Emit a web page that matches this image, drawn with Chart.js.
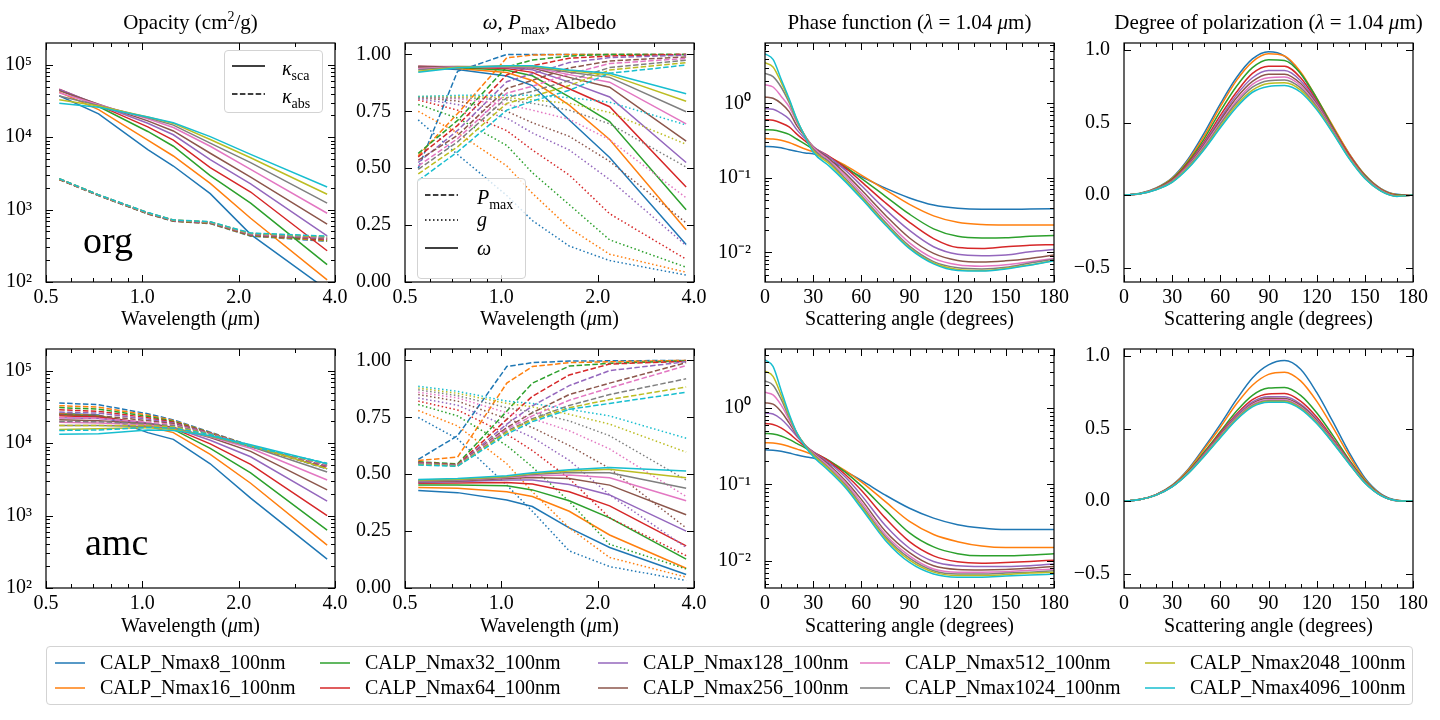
<!DOCTYPE html>
<html><head><meta charset="utf-8">
<script src="https://cdn.jsdelivr.net/npm/chart.js@4.4.1/dist/chart.umd.min.js"></script>
<style>
html,body{margin:0;padding:0;background:#fff;width:1440px;height:720px;overflow:hidden;font-family:'Liberation Serif','Times New Roman',serif;color:#000;}
canvas{position:absolute;z-index:1;}
.t{position:absolute;font-size:20px;line-height:24px;white-space:nowrap;z-index:4;}
.tt{font-size:21px;}
.c{transform:translateX(-50%);}
.sup{font-size:14px;position:relative;top:-8px;}
.sub{font-size:14px;position:relative;top:5px;}
.box{position:absolute;border:1px solid #d3d3d3;border-radius:4px;background:rgba(255,255,255,0.8);z-index:2;box-sizing:border-box;}
.lg{position:absolute;font-size:20px;line-height:22px;white-space:nowrap;z-index:4;}
.big{position:absolute;font-size:38px;line-height:38px;z-index:4;}
svg{position:absolute;left:0;top:0;z-index:3;pointer-events:none;}
</style></head><body>
<script>
// ---------------- DATA ----------------
const SERIES_NAMES = ['CALP_Nmax8_100nm','CALP_Nmax16_100nm','CALP_Nmax32_100nm','CALP_Nmax64_100nm','CALP_Nmax128_100nm','CALP_Nmax256_100nm','CALP_Nmax512_100nm','CALP_Nmax1024_100nm','CALP_Nmax2048_100nm','CALP_Nmax4096_100nm'];
const WAVELENGTH = [0.55, 0.73, 1.04, 1.25, 1.63, 2.18, 3.78];
const ANGLE_PHASE = [0,5,10,15,20,25,30,40,50,60,75,90,105,120,135,150,165,180];
const ANGLE_POL = [0,10,20,30,40,50,60,70,80,90,100,110,120,130,140,150,160,170,180];

// org: opacity (cm^2/g)
const ORG_KSCA = [
 [37300,21000,6760,4000,1660,455,78],
 [42000,24000,9100,5500,2300,760,107],
 [45000,26500,12000,7500,2950,1230,174],
 [46000,27500,13900,9100,3800,1750,270],
 [45500,28000,15600,10800,4900,2270,435],
 [44000,28500,16800,12200,6000,2800,630],
 [41000,28000,18000,13600,7500,3600,890],
 [37000,27500,18600,14700,8300,4460,1230],
 [33000,27000,19000,15500,9300,5200,1630],
 [29500,26000,19000,15800,10200,5800,2050]];
const ORG_KABS = [
 [2600,1560,870,690,640,430,365],
 [2610,1565,875,693,645,435,372],
 [2620,1570,880,697,650,440,380],
 [2630,1575,885,700,655,445,388],
 [2640,1580,890,705,660,450,395],
 [2650,1585,895,708,665,455,400],
 [2660,1590,900,712,670,460,408],
 [2665,1595,903,715,673,465,415],
 [2670,1598,906,718,676,470,422],
 [2680,1600,910,720,680,475,430]];
// org: albedo, Pmax, g
const ORG_OMEGA = [
 [0.942,0.934,0.905,0.863,0.712,0.547,0.165],
 [0.945,0.938,0.920,0.885,0.777,0.626,0.230],
 [0.947,0.942,0.930,0.906,0.813,0.705,0.317],
 [0.948,0.945,0.938,0.921,0.849,0.770,0.417],
 [0.947,0.946,0.942,0.932,0.878,0.813,0.525],
 [0.945,0.947,0.945,0.940,0.899,0.856,0.619],
 [0.938,0.946,0.947,0.943,0.911,0.878,0.695],
 [0.932,0.945,0.948,0.946,0.921,0.899,0.748],
 [0.926,0.943,0.949,0.948,0.928,0.910,0.794],
 [0.921,0.941,0.950,0.950,0.931,0.917,0.827]];
const ORG_PMAX = [
 [0.500,0.926,1.000,1.000,1.000,1.000,1.000],
 [0.555,0.740,0.985,0.997,1.000,1.000,1.000],
 [0.565,0.710,0.945,0.975,0.993,1.000,1.000],
 [0.550,0.688,0.910,0.950,0.983,0.993,1.000],
 [0.525,0.666,0.880,0.915,0.964,0.986,0.997],
 [0.535,0.644,0.850,0.886,0.940,0.971,0.989],
 [0.510,0.630,0.830,0.860,0.914,0.960,0.982],
 [0.495,0.616,0.810,0.838,0.885,0.942,0.974],
 [0.475,0.594,0.785,0.815,0.863,0.931,0.964],
 [0.445,0.572,0.755,0.795,0.842,0.917,0.953]];
const ORG_G = [
 [0.712,0.560,0.380,0.270,0.158,0.094,0.030],
 [0.750,0.655,0.510,0.390,0.237,0.122,0.043],
 [0.780,0.720,0.600,0.480,0.340,0.185,0.065],
 [0.800,0.755,0.665,0.580,0.470,0.300,0.100],
 [0.805,0.780,0.720,0.655,0.580,0.450,0.160],
 [0.810,0.795,0.750,0.700,0.640,0.530,0.260],
 [0.810,0.805,0.780,0.755,0.715,0.625,0.370],
 [0.810,0.810,0.800,0.785,0.755,0.695,0.505],
 [0.815,0.815,0.810,0.800,0.785,0.745,0.605],
 [0.815,0.820,0.820,0.820,0.810,0.790,0.690]];
// org: phase function at 1.04 um
const ORG_PHASE = [
 [0.264,0.262,0.254,0.239,0.227,0.216,0.210,0.171,0.133,0.104,0.0728,0.0538,0.0431,0.0390,0.0378,0.0378,0.0382,0.0386],
 [0.337,0.333,0.320,0.298,0.270,0.244,0.225,0.190,0.147,0.109,0.0692,0.0440,0.0309,0.0253,0.0236,0.0233,0.0233,0.0233],
 [0.442,0.438,0.416,0.384,0.330,0.284,0.244,0.190,0.140,0.0986,0.0566,0.0325,0.0207,0.0164,0.0156,0.0157,0.0164,0.0169],
 [0.604,0.592,0.546,0.484,0.384,0.314,0.257,0.195,0.137,0.0891,0.0463,0.0253,0.0153,0.0116,0.0113,0.0119,0.0125,0.0127],
 [0.851,0.834,0.739,0.617,0.438,0.337,0.264,0.190,0.127,0.0789,0.0378,0.0197,0.0119,0.0094,0.0090,0.0092,0.0102,0.0109],
 [1.22,1.17,1.00,0.777,0.494,0.358,0.264,0.180,0.115,0.0692,0.0315,0.0156,0.0097,0.0078,0.0074,0.0077,0.0083,0.0092],
 [1.78,1.66,1.25,0.904,0.546,0.365,0.257,0.171,0.107,0.0626,0.0280,0.0134,0.0083,0.0068,0.0065,0.0068,0.0075,0.0083],
 [2.53,2.29,1.66,1.03,0.574,0.365,0.244,0.163,0.0986,0.0577,0.0253,0.0121,0.0075,0.0062,0.0060,0.0063,0.0072,0.0081],
 [3.52,3.09,1.93,1.11,0.592,0.358,0.232,0.155,0.0937,0.0549,0.0240,0.0115,0.0072,0.0059,0.0057,0.0061,0.0068,0.0078],
 [4.63,3.90,2.13,1.16,0.604,0.354,0.221,0.144,0.0891,0.0527,0.0233,0.0112,0.0070,0.0057,0.0056,0.0060,0.0067,0.0077]];
// org: degree of polarization at 1.04 um
const ORG_POL = [
 [0,0.012,0.050,0.120,0.250,0.430,0.630,0.810,0.940,0.990,0.960,0.840,0.660,0.470,0.290,0.140,0.045,0.005,0],
 [0,0.011,0.047,0.115,0.240,0.410,0.610,0.790,0.920,0.975,0.960,0.850,0.670,0.480,0.290,0.140,0.043,0.003,0],
 [0,0.011,0.045,0.110,0.230,0.390,0.580,0.750,0.880,0.935,0.930,0.840,0.670,0.470,0.280,0.135,0.040,0.000,0],
 [0,0.010,0.043,0.105,0.220,0.370,0.550,0.710,0.840,0.890,0.890,0.810,0.650,0.460,0.280,0.130,0.038,-0.002,0],
 [0,0.010,0.042,0.100,0.210,0.360,0.530,0.690,0.810,0.860,0.860,0.790,0.640,0.455,0.270,0.128,0.035,-0.004,0],
 [0,0.010,0.041,0.098,0.205,0.350,0.515,0.670,0.785,0.835,0.835,0.770,0.630,0.450,0.270,0.125,0.033,-0.005,0],
 [0,0.009,0.040,0.095,0.200,0.340,0.500,0.650,0.765,0.810,0.815,0.755,0.620,0.445,0.265,0.123,0.032,-0.006,0],
 [0,0.009,0.039,0.093,0.195,0.330,0.490,0.635,0.745,0.790,0.795,0.740,0.610,0.440,0.260,0.120,0.030,-0.007,0],
 [0,0.009,0.038,0.090,0.190,0.320,0.475,0.620,0.725,0.770,0.775,0.725,0.600,0.435,0.260,0.118,0.029,-0.008,0],
 [0,0.009,0.037,0.088,0.185,0.315,0.465,0.605,0.710,0.750,0.757,0.710,0.590,0.430,0.255,0.115,0.028,-0.009,0]];

// amc: opacity (cm^2/g)
const AMC_KSCA = [
 [26000,24500,14000,11300,5200,1740,250],
 [25500,24000,17000,14000,7000,2800,390],
 [25000,23500,18500,15500,8500,3900,630],
 [24000,23000,19000,16000,9800,5100,1000],
 [22500,22000,19000,16500,11000,6500,1580],
 [21000,20500,18500,16500,12000,7700,2270],
 [19500,19000,18000,16000,12300,8500,3100],
 [17500,17500,17000,15800,12500,9000,4000],
 [15500,15800,16500,15500,12600,9300,4450],
 [13300,13500,15200,15000,12700,9500,5200]];
const AMC_KABS = [
 [36000,34000,25500,21000,14200,9300,4400],
 [33000,31500,24500,20500,14000,9200,4500],
 [31000,29500,23500,20000,13900,9100,4600],
 [29000,27500,22500,19500,13800,9000,4700],
 [27000,26000,21500,19000,13700,9000,4800],
 [25000,24000,20500,18500,13600,9000,4900],
 [22500,22000,19500,18000,13500,9000,5000],
 [20000,19800,18500,17500,13400,9000,5100],
 [17500,17500,17500,16800,13300,9000,5200],
 [15000,15200,16500,16200,13200,9000,5300]];
// amc: albedo, Pmax, g
const AMC_OMEGA = [
 [0.428,0.419,0.387,0.358,0.264,0.178,0.059],
 [0.442,0.438,0.423,0.402,0.337,0.233,0.087],
 [0.452,0.452,0.449,0.431,0.383,0.308,0.127],
 [0.460,0.461,0.464,0.457,0.423,0.361,0.185],
 [0.464,0.467,0.474,0.474,0.455,0.409,0.250],
 [0.467,0.470,0.481,0.486,0.481,0.452,0.322],
 [0.470,0.473,0.486,0.493,0.496,0.484,0.383],
 [0.471,0.475,0.488,0.499,0.507,0.506,0.438],
 [0.474,0.478,0.490,0.503,0.514,0.522,0.484],
 [0.477,0.481,0.493,0.506,0.519,0.529,0.514]];
const AMC_PMAX = [
 [0.565,0.669,0.973,0.990,0.997,0.998,1.000],
 [0.560,0.575,0.900,0.973,0.990,0.994,1.000],
 [0.555,0.545,0.777,0.900,0.975,0.987,0.998],
 [0.552,0.542,0.741,0.842,0.936,0.984,0.996],
 [0.550,0.540,0.720,0.800,0.889,0.955,0.994],
 [0.548,0.540,0.705,0.770,0.850,0.900,0.990],
 [0.546,0.538,0.698,0.756,0.825,0.879,0.977],
 [0.545,0.537,0.690,0.744,0.802,0.850,0.919],
 [0.543,0.536,0.684,0.738,0.792,0.828,0.883],
 [0.540,0.535,0.676,0.731,0.785,0.811,0.860]];
const AMC_G = [
 [0.749,0.655,0.452,0.337,0.163,0.094,0.033],
 [0.780,0.712,0.546,0.423,0.264,0.134,0.048],
 [0.806,0.756,0.626,0.532,0.380,0.192,0.084],
 [0.821,0.782,0.676,0.604,0.481,0.308,0.142],
 [0.835,0.803,0.712,0.662,0.561,0.409,0.178],
 [0.850,0.821,0.744,0.705,0.626,0.525,0.264],
 [0.860,0.835,0.770,0.744,0.691,0.611,0.402],
 [0.871,0.845,0.792,0.773,0.734,0.669,0.474],
 [0.879,0.855,0.811,0.796,0.763,0.720,0.597],
 [0.886,0.864,0.821,0.811,0.785,0.756,0.658]];
// amc: phase function at 1.04 um
const AMC_PHASE = [
 [0.284,0.281,0.273,0.258,0.243,0.231,0.222,0.186,0.148,0.113,0.0725,0.0488,0.0362,0.0297,0.0269,0.0256,0.0256,0.0256],
 [0.353,0.350,0.336,0.314,0.290,0.268,0.245,0.201,0.152,0.108,0.0595,0.0328,0.0221,0.0178,0.0156,0.0149,0.0149,0.0149],
 [0.466,0.457,0.431,0.390,0.343,0.302,0.263,0.205,0.145,0.0957,0.0464,0.0232,0.0152,0.0124,0.0116,0.0116,0.0119,0.0124],
 [0.628,0.610,0.552,0.466,0.379,0.314,0.268,0.201,0.135,0.0841,0.0362,0.0178,0.0116,0.0097,0.0093,0.0095,0.0098,0.0102],
 [0.862,0.837,0.721,0.563,0.422,0.327,0.268,0.191,0.125,0.0725,0.0289,0.0146,0.0098,0.0086,0.0084,0.0084,0.0086,0.0091],
 [1.18,1.13,0.906,0.640,0.440,0.327,0.263,0.180,0.113,0.0637,0.0244,0.0128,0.0086,0.0077,0.0076,0.0077,0.0080,0.0084],
 [1.61,1.49,1.10,0.707,0.453,0.327,0.258,0.172,0.106,0.0583,0.0221,0.0116,0.0078,0.0071,0.0071,0.0072,0.0075,0.0078],
 [2.28,2.00,1.31,0.758,0.462,0.327,0.250,0.163,0.0995,0.0539,0.0206,0.0108,0.0074,0.0067,0.0067,0.0069,0.0071,0.0074],
 [3.06,2.61,1.49,0.796,0.466,0.320,0.243,0.157,0.0957,0.0513,0.0196,0.0102,0.0071,0.0064,0.0064,0.0066,0.0069,0.0071],
 [4.29,3.52,1.72,0.845,0.466,0.314,0.233,0.149,0.0910,0.0488,0.0185,0.0095,0.0067,0.0061,0.0061,0.0063,0.0065,0.0067]];
// amc: degree of polarization at 1.04 um
const AMC_POL = [
 [0,0.012,0.045,0.110,0.220,0.370,0.530,0.700,0.850,0.940,0.970,0.910,0.750,0.550,0.340,0.160,0.050,0.006,0],
 [0,0.012,0.045,0.108,0.215,0.360,0.510,0.670,0.800,0.875,0.890,0.830,0.690,0.510,0.320,0.150,0.047,0.005,0],
 [0,0.011,0.044,0.105,0.205,0.340,0.480,0.620,0.730,0.780,0.785,0.730,0.610,0.455,0.290,0.140,0.043,0.004,0],
 [0,0.011,0.043,0.103,0.200,0.330,0.470,0.600,0.700,0.740,0.742,0.690,0.580,0.435,0.280,0.135,0.042,0.004,0],
 [0,0.011,0.043,0.102,0.198,0.325,0.460,0.590,0.685,0.720,0.720,0.670,0.565,0.425,0.275,0.132,0.041,0.003,0],
 [0,0.011,0.042,0.101,0.196,0.320,0.455,0.580,0.675,0.710,0.708,0.660,0.557,0.420,0.270,0.130,0.040,0.003,0],
 [0,0.011,0.042,0.100,0.195,0.318,0.450,0.575,0.668,0.700,0.700,0.652,0.550,0.415,0.268,0.128,0.040,0.003,0],
 [0,0.011,0.042,0.100,0.193,0.315,0.446,0.570,0.660,0.693,0.693,0.645,0.545,0.410,0.265,0.127,0.039,0.003,0],
 [0,0.011,0.041,0.099,0.192,0.312,0.442,0.565,0.655,0.687,0.687,0.640,0.540,0.407,0.262,0.126,0.039,0.003,0],
 [0,0.011,0.041,0.098,0.190,0.310,0.438,0.560,0.650,0.682,0.682,0.635,0.535,0.403,0.260,0.125,0.038,0.003,0]];

// tick labels
const WL_TICKS = [0.5, 1.0, 2.0, 4.0];
const ANGLE_TICKS = [0, 30, 60, 90, 120, 150, 180];
const OPAC_TICKS = [1e2, 1e3, 1e4, 1e5];
const ALB_TICKS = [0, 0.25, 0.5, 0.75, 1.0];
const PHASE_TICKS = [0.01, 0.1, 1];
const POL_TICKS = [-0.5, 0, 0.5, 1.0];

// ---------------- STYLE / LAYOUT ----------------
const COLORS = ['#1f77b4','#ff7f0e','#2ca02c','#d62728','#9467bd','#8c564b','#e377c2','#7f7f7f','#bcbd22','#17becf'];
const FONT = "'Liberation Serif','Times New Roman',serif";
const DASHED = [5.5, 2.4], DOTTED = [1.5, 2.5];
const COLS = [46, 405, 765, 1124], ROWS = [39, 345], W = 289, H = 243;
const PADL = 70, PADT = 14, PADR = 26, PADB = 36;

Chart.defaults.font.family = FONT;

function sup(n){const m={'-':'\u207B','0':'\u2070','1':'\u00B9','2':'\u00B2','3':'\u00B3','4':'\u2074','5':'\u2075','6':'\u2076','7':'\u2077','8':'\u2078','9':'\u2079'};return String(n).split('').map(c=>m[c]).join('');}
function logLabel(v){return '10'+sup(Math.round(Math.log10(v)));}
function logMinors(min,max){const out=[];for(let e=Math.floor(Math.log10(min));e<=Math.ceil(Math.log10(max));e++){for(let k=2;k<=9;k++){const v=k*Math.pow(10,e);if(v>min&&v<max)out.push(v);}}return out;}
const WL_MINOR=[0.6,0.7,0.8,0.9,3.0];
const ANG_MINOR=[10,20,40,50,70,80,100,110,130,140,160,170];

function frameTicks(xMinor,yMinor){
  return {id:'frameTicks',afterDraw(chart){
    const ctx=chart.ctx,a=chart.chartArea,xs=chart.scales.x,ys=chart.scales.y;
    ctx.save();ctx.strokeStyle='#000';ctx.lineWidth=1;ctx.setLineDash([]);
    ctx.beginPath();
    const vx=(v,len)=>{const p=Math.round(xs.getPixelForValue(v))+0.5;if(p<a.left-1||p>a.right+1)return;ctx.moveTo(p,a.bottom);ctx.lineTo(p,a.bottom-len);ctx.moveTo(p,a.top);ctx.lineTo(p,a.top+len);};
    const vy=(v,len)=>{const p=Math.round(ys.getPixelForValue(v))+0.5;if(p<a.top-1||p>a.bottom+1)return;ctx.moveTo(a.left,p);ctx.lineTo(a.left+len,p);ctx.moveTo(a.right,p);ctx.lineTo(a.right-len,p);};
    xs.ticks.forEach(t=>vx(t.value,7));xMinor.forEach(v=>vx(v,4));
    ys.ticks.forEach(t=>vy(t.value,7));yMinor.forEach(v=>vy(v,4));
    ctx.stroke();
    ctx.lineWidth=1.2;ctx.strokeRect(a.left,a.top,a.right-a.left,a.bottom-a.top);
    ctx.restore();
  }};
}

function ds(xs,ys,color,dash,smooth){
  return {data:xs.map((x,i)=>({x:x,y:ys[i]})),borderColor:color,backgroundColor:color,borderWidth:1.5,borderDash:dash,
    pointRadius:0,fill:false,tension:0,cubicInterpolationMode:smooth?'monotone':'default'};
}

function makePanel(row,col,s){
  const cv=document.createElement('canvas');
  const w=PADL+W+PADR,h=PADT+H+PADB;
  cv.width=w;cv.height=h;
  cv.style.left=(COLS[col]-PADL)+'px';cv.style.top=(ROWS[row]-PADT)+'px';
  cv.style.width=w+'px';cv.style.height=h+'px';
  document.body.appendChild(cv);
  const tickFont={family:FONT,size:20};
  new Chart(cv,{type:'line',data:{datasets:s.datasets.reverse()},
    options:{responsive:false,animation:false,events:[],
      layout:{padding:{left:0,top:PADT,right:PADR,bottom:0}},
      plugins:{legend:{display:false},tooltip:{enabled:false}},
      scales:{
        x:{type:s.xType,min:s.xMin,max:s.xMax,grid:{display:false},border:{display:false},
          afterBuildTicks:sc=>{sc.ticks=s.xTicks.map(v=>({value:v}));},
          afterFit:sc=>{sc.height=PADB;},
          ticks:{autoSkip:false,maxRotation:0,minRotation:0,padding:-4,color:'#000',font:tickFont,callback:s.xFmt}},
        y:{type:s.yType,min:s.yMin,max:s.yMax,grid:{display:false},border:{display:false},
          afterBuildTicks:sc=>{sc.ticks=s.yTicks.map(v=>({value:v}));},
          afterFit:sc=>{sc.width=PADL;},
          ticks:{autoSkip:false,padding:6,color:'#000',font:tickFont,callback:s.yFmt}}
      }},
    plugins:[frameTicks(s.xMinor,s.yMinor)]});
}

const wlFmt=v=>Number(v).toFixed(1);
const angFmt=v=>String(Math.round(v));

function buildRow(row,KSCA,KABS,OMEGA,PMAX,G,PHASE,POL,phaseMin,phaseMax){
  const d1=[],d2=[],d3=[],d4=[];
  for(let i=0;i<SERIES_NAMES.length;i++){
    const c=COLORS[i];
    d1.push(ds(WAVELENGTH,KSCA[i],c,[],false));
    d1.push(ds(WAVELENGTH,KABS[i],c,DASHED,false));
    d2.push(ds(WAVELENGTH,PMAX[i],c,DASHED,false));
    d2.push(ds(WAVELENGTH,G[i],c,DOTTED,false));
    d2.push(ds(WAVELENGTH,OMEGA[i],c,[],false));
    d3.push(ds(ANGLE_PHASE,PHASE[i],c,[],true));
    d4.push(ds(ANGLE_POL,POL[i],c,[],true));
  }
  makePanel(row,0,{datasets:d1,xType:'logarithmic',xMin:0.5,xMax:4.0,xTicks:WL_TICKS,xMinor:WL_MINOR,xFmt:wlFmt,
    yType:'logarithmic',yMin:100,yMax:2e5,yTicks:OPAC_TICKS,yMinor:logMinors(100,2e5),yFmt:logLabel});
  makePanel(row,1,{datasets:d2,xType:'logarithmic',xMin:0.5,xMax:4.0,xTicks:WL_TICKS,xMinor:WL_MINOR,xFmt:wlFmt,
    yType:'linear',yMin:0,yMax:1.05,yTicks:ALB_TICKS,yMinor:[],yFmt:v=>Number(v).toFixed(2)});
  makePanel(row,2,{datasets:d3,xType:'linear',xMin:0,xMax:180,xTicks:ANGLE_TICKS,xMinor:ANG_MINOR,xFmt:angFmt,
    yType:'logarithmic',yMin:phaseMin,yMax:phaseMax,yTicks:PHASE_TICKS,yMinor:logMinors(phaseMin,phaseMax),yFmt:logLabel});
  makePanel(row,3,{datasets:d4,xType:'linear',xMin:0,xMax:180,xTicks:ANGLE_TICKS,xMinor:ANG_MINOR,xFmt:angFmt,
    yType:'linear',yMin:-0.6,yMax:1.05,yTicks:POL_TICKS,yMinor:[],yFmt:v=>{const t=Number(v).toFixed(1);return t.replace('-','\u2212');}});
}
buildRow(0,ORG_KSCA,ORG_KABS,ORG_OMEGA,ORG_PMAX,ORG_G,ORG_PHASE,ORG_POL,0.0040,6.47);
buildRow(1,AMC_KSCA,AMC_KABS,AMC_OMEGA,AMC_PMAX,AMC_G,AMC_PHASE,AMC_POL,0.0044,5.95);

// ---------------- TEXT / LEGENDS ----------------
function addHTML(html){const d=document.createElement('div');d.innerHTML=html;while(d.firstChild)document.body.appendChild(d.firstChild);}
const centers=COLS.map(x=>x+W/2);
addHTML('<div class="t tt c" style="left:'+centers[0]+'px;top:10px">Opacity (cm<span class="sup">2</span>/g)</div>');
addHTML('<div class="t tt c" style="left:'+centers[1]+'px;top:10px"><i>ω</i>, <i>P</i><span class="sub">max</span>, Albedo</div>');
addHTML('<div class="t tt c" style="left:'+centers[2]+'px;top:10px">Phase function (<i>λ</i> = 1.04 <i>μ</i>m)</div>');
addHTML('<div class="t tt c" style="left:'+centers[3]+'px;top:10px">Degree of polarization (<i>λ</i> = 1.04 <i>μ</i>m)</div>');
[306,613].forEach(top=>{
  addHTML('<div class="t c" style="left:'+centers[0]+'px;top:'+top+'px">Wavelength (<i>μ</i>m)</div>');
  addHTML('<div class="t c" style="left:'+centers[1]+'px;top:'+top+'px">Wavelength (<i>μ</i>m)</div>');
  addHTML('<div class="t c" style="left:'+centers[2]+'px;top:'+top+'px">Scattering angle (degrees)</div>');
  addHTML('<div class="t c" style="left:'+centers[3]+'px;top:'+top+'px">Scattering angle (degrees)</div>');
});
addHTML('<div class="big" style="left:83px;top:221px">org</div>');
addHTML('<div class="big" style="left:85px;top:523px">amc</div>');

// inner legend boxes
addHTML('<div class="box" style="left:224px;top:50px;width:99px;height:63px"></div>');
addHTML('<div class="t" style="left:282px;top:56px"><i>κ</i><span class="sub">sca</span></div>');
addHTML('<div class="t" style="left:282px;top:84px"><i>κ</i><span class="sub">abs</span></div>');
addHTML('<div class="box" style="left:417px;top:178px;width:109px;height:101px"></div>');
addHTML('<div class="t" style="left:477px;top:185px"><i>P</i><span class="sub">max</span></div>');
addHTML('<div class="t" style="left:477px;top:207px"><i>g</i></div>');
addHTML('<div class="t" style="left:477px;top:236px"><i>ω</i></div>');

// bottom legend
addHTML('<div class="box" style="left:46px;top:646px;width:1367px;height:59px;background:#fff"></div>');
const LG_X=[100,365,643,905,1190], LG_Y=[663,688];
let svg='<svg width="1440" height="720">';
svg+='<line x1="232" y1="66" x2="265" y2="66" stroke="#000" stroke-width="1.5"/>';
svg+='<line x1="232" y1="94" x2="265" y2="94" stroke="#000" stroke-width="1.5" stroke-dasharray="5.5 2.4"/>';
svg+='<line x1="425" y1="195" x2="458" y2="195" stroke="#000" stroke-width="1.5" stroke-dasharray="5.5 2.4"/>';
svg+='<line x1="425" y1="220" x2="458" y2="220" stroke="#000" stroke-width="1.5" stroke-dasharray="1.5 2.5"/>';
svg+='<line x1="425" y1="248" x2="458" y2="248" stroke="#000" stroke-width="1.5"/>';
SERIES_NAMES.forEach((name,i)=>{
  const col=Math.floor(i/2),r=i%2,x=LG_X[col],y=LG_Y[r];
  svg+='<line x1="'+(x-45)+'" y1="'+y+'" x2="'+(x-15)+'" y2="'+y+'" stroke="'+COLORS[i]+'" stroke-width="1.5"/>';
  addHTML('<div class="lg" style="left:'+x+'px;top:'+(y-12)+'px">'+name+'</div>');
});
svg+='</svg>';
addHTML(svg);
</script>
</body></html>
